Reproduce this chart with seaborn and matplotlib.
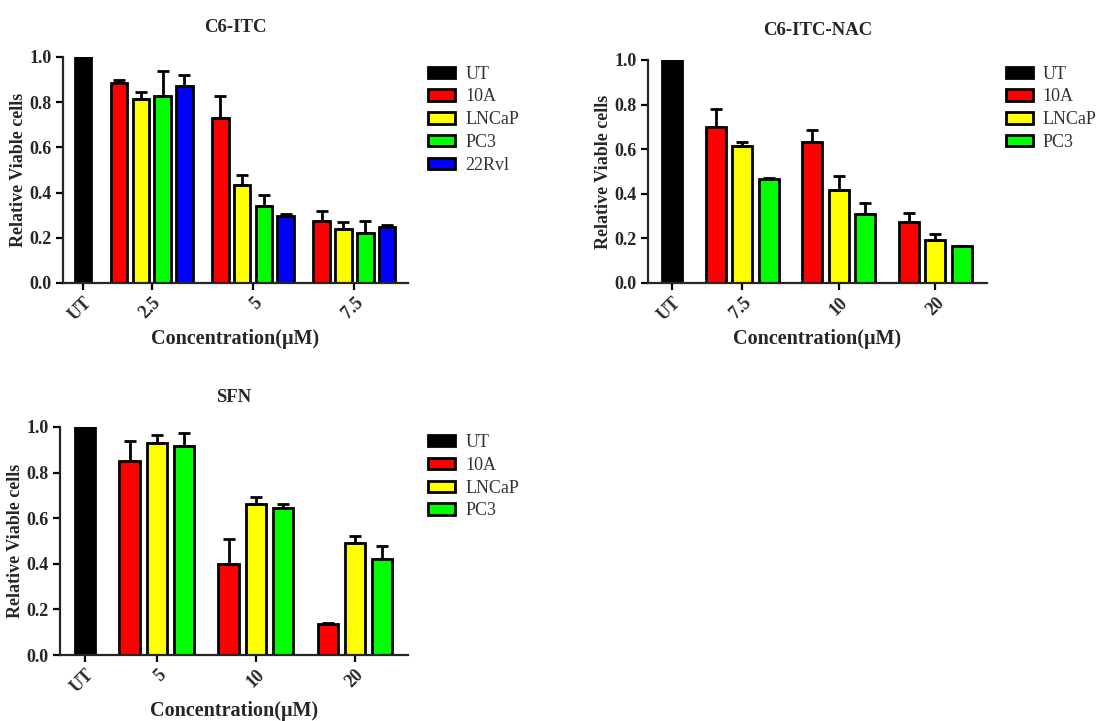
import numpy as np
import pandas as pd
import matplotlib
matplotlib.use('Agg')
import matplotlib.pyplot as plt
from matplotlib.patches import Patch
import seaborn as sns

sns.set_style('ticks')
plt.rcParams['font.family'] = ['Liberation Serif', 'DejaVu Serif']

# colours of the cell lines
lines_all = ['UT', '10A', 'LNCaP', 'PC3', '22Rvl']
palette = {'UT': '#000000', '10A': '#ff0000', 'LNCaP': '#ffff00',
           'PC3': '#00ff00', '22Rvl': '#0000ff'}

# C6-ITC
itc_doses = ['2.5', '5', '7.5']
itc_lines = ['10A', 'LNCaP', 'PC3', '22Rvl']
itc_mean = [[0.885, 0.816, 0.826, 0.870],
            [0.730, 0.435, 0.339, 0.295],
            [0.273, 0.239, 0.221, 0.246]]
itc_err = [[0.015, 0.029, 0.111, 0.052],
           [0.096, 0.044, 0.049, 0.010],
           [0.044, 0.029, 0.052, 0.012]]

# C6-ITC-NAC
nac_doses = ['7.5', '10', '20']
nac_lines = ['10A', 'LNCaP', 'PC3']
nac_mean = [[0.699, 0.615, 0.466],
            [0.630, 0.415, 0.310],
            [0.273, 0.194, 0.164]]
nac_err = [[0.082, 0.016, 0.007],
           [0.054, 0.066, 0.048],
           [0.043, 0.025, 0.003]]

# SFN
sfn_doses = ['5', '10', '20']
sfn_lines = ['10A', 'LNCaP', 'PC3']
sfn_mean = [[0.851, 0.930, 0.915],
            [0.399, 0.664, 0.644],
            [0.136, 0.493, 0.420]]
sfn_err = [[0.086, 0.034, 0.060],
           [0.108, 0.027, 0.017],
           [0.006, 0.028, 0.057]]

ut_value = 1.0


def draw_panel(ax, title, doses, lines, mean, err, leg_xy):
    n = len(lines)
    gap = 0.65
    pos, val, lab, e = [0.0], [ut_value], ['UT'], [0.0]
    centers = [0.0]
    for g, d in enumerate(doses):
        start = 1 + gap + g * (n + gap)
        for j, ln in enumerate(lines):
            pos.append(start + j)
            val.append(mean[g][j])
            lab.append(ln)
            e.append(err[g][j])
        centers.append(start + (n - 1) / 2)
    df = pd.DataFrame({'pos': pos, 'value': val, 'line': lab})
    order = ['UT'] + lines
    sns.barplot(data=df, x='pos', y='value', hue='line', hue_order=order,
                palette=palette, saturation=1, native_scale=True, dodge=False,
                width=0.76, edgecolor='black', linewidth=2, errorbar=None,
                legend=False, ax=ax)
    pos = np.array(pos)
    e = np.array(e)
    m = e > 0
    ax.errorbar(pos[m], np.array(val)[m], yerr=[np.zeros(m.sum()), e[m]],
                fmt='none', ecolor='black', elinewidth=2, capsize=4.5,
                capthick=2, zorder=3, clip_on=False)

    ax.set_xlim(-0.92, pos.max() + 0.95)
    ax.set_ylim(0, 1.0)
    ax.set_yticks(np.arange(0, 1.01, 0.2))
    ax.set_yticklabels(['%.1f' % t for t in np.arange(0, 1.01, 0.2)],
                       fontsize=13, fontweight='bold')
    ax.set_xticks(centers)
    ax.set_xticklabels(['UT'] + doses, rotation=45, ha='right',
                       rotation_mode='anchor', fontsize=13, fontweight='bold')
    ax.tick_params(direction='out', length=5, width=1.6, color='black', pad=3)
    for s in ['left', 'bottom']:
        ax.spines[s].set_linewidth(1.6)
    sns.despine(ax=ax)
    ax.set_xlabel('Concentration(μM)', fontsize=14.5, fontweight='bold',
                  labelpad=4)
    ax.set_ylabel('Relative Viable cells', fontsize=13, fontweight='bold',
                  labelpad=2)
    ax.set_title(title, fontsize=13.5, fontweight='bold', pad=18)

    handles = [Patch(facecolor=palette[k], edgecolor='black', linewidth=2)
               for k in order]
    ax.legend(handles, order, loc='upper left', bbox_to_anchor=leg_xy,
              bbox_transform=ax.figure.transFigure, frameon=False,
              fontsize=13, handlelength=1.5, handleheight=0.6,
              labelspacing=0.32, handletextpad=0.55, borderaxespad=0,
              labelcolor='#333333')


fig = plt.figure(figsize=(11.02, 7.21), dpi=100)
ax1 = fig.add_axes([0.0572, 0.6075, 0.3128, 0.3135])
ax2 = fig.add_axes([0.588, 0.6075, 0.3076, 0.3093])
ax3 = fig.add_axes([0.0544, 0.0915, 0.3158, 0.3163])

draw_panel(ax1, 'C6-ITC', itc_doses, itc_lines, itc_mean, itc_err,
           (0.382, 0.919))
draw_panel(ax2, 'C6-ITC-NAC', nac_doses, nac_lines, nac_mean, nac_err,
           (0.906, 0.919))
draw_panel(ax3, 'SFN', sfn_doses, sfn_lines, sfn_mean, sfn_err,
           (0.382, 0.408))

fig.savefig('out.png', dpi=100, facecolor='white')
